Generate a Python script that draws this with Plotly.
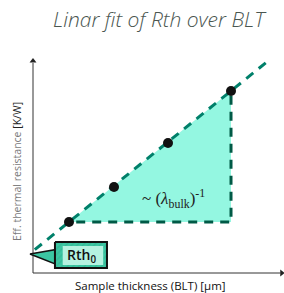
import plotly.graph_objects as go

# ---- data (arbitrary units) ----
blt_um = [20, 45, 75, 110]            # sample thickness (BLT)
rth_kw = [0.51, 0.86, 1.30, 1.82]     # effective thermal resistance
rth0 = 0.219                          # intercept Rth0
inv_lambda = 0.01456                  # slope ~ 1/lambda_bulk
fit_blt = [1, 131]
fit_rth = [rth0 + inv_lambda * b for b in fit_blt]

tri_x = [blt_um[0], blt_um[-1], blt_um[-1], blt_um[0]]
tri_y = [rth_kw[0], rth_kw[-1], rth_kw[0], rth_kw[0]]
leg_x = [blt_um[0] + 4, blt_um[-1], blt_um[-1]]
leg_y = [rth_kw[0], rth_kw[0], rth_kw[-1]]

box_x = [12.2, 41.1, 41.1, 12.2, 12.2]
box_y = [0.31, 0.31, 0.05, 0.05, 0.31]
wedge_x = [-1.7, 13.0, 13.0, -1.7]
wedge_y = [0.19, 0.235, 0.085, 0.19]

axis_x = [0, 0, 137.5]
axis_y = [2.10, 0, 0]

x_range = [-33 / 1.8, (284 - 33) / 1.8]
y_range = [-0.2, 2.73]

fig = go.Figure()

# axes lines
fig.add_trace(go.Scatter(x=axis_x, y=axis_y, mode="lines",
                         line=dict(color="#333333", width=1), hoverinfo="skip"))
fig.add_trace(go.Scatter(x=[0], y=[2.12], mode="markers",
                         marker=dict(symbol="triangle-up", size=6, color="#222222")))
fig.add_trace(go.Scatter(x=[138.2], y=[0], mode="markers",
                         marker=dict(symbol="triangle-right", size=6, color="#222222")))

# triangle fill
fig.add_trace(go.Scatter(x=tri_x, y=tri_y, fill="toself", fillcolor="#94F7E1",
                         mode="lines", line=dict(width=0), hoverinfo="skip"))
# triangle legs
fig.add_trace(go.Scatter(x=leg_x, y=leg_y, mode="lines",
                         line=dict(color="#005A46", width=3, dash="9px,7px")))
# fit line
fig.add_trace(go.Scatter(x=fit_blt, y=fit_rth, mode="lines",
                         line=dict(color="#00806A", width=3, dash="9px,7px")))
# measured points
fig.add_trace(go.Scatter(x=blt_um, y=rth_kw, mode="markers",
                         marker=dict(color="#111111", size=10)))
# callout wedge
fig.add_trace(go.Scatter(x=wedge_x, y=wedge_y, fill="toself", fillcolor="#3CC6A2",
                         mode="lines", line=dict(color="#111111", width=1.5)))
# Rth0 box
fig.add_trace(go.Scatter(x=box_x, y=box_y, fill="toself", mode="lines",
                         line=dict(color="#111111", width=2),
                         fillpattern=dict(shape="/", bgcolor="#3CC6A2",
                                          fgcolor="#2DAA8A", size=4, solidity=0.3)))

fig.add_shape(type="rect", x0=16.5, x1=39.0, y0=0.27, y1=0.08,
              fillcolor="#B5F2E0", line=dict(width=0), layer="above")

# texts
fig.add_annotation(x=70.5, y=2.54, text="Linar fit of Rth over BLT", showarrow=False,
                   font=dict(family="Open Sans", size=21, color="#4A5650",
                             style="italic", weight=300))
fig.add_annotation(x=65, y=-0.12, text="Sample thickness (BLT) [µm]", showarrow=False,
                   font=dict(family="Open Sans", size=11.5, color="#111111"))
fig.add_annotation(x=-8.9, y=1.02, textangle=-90, showarrow=False,
                   text="<span style='color:#7A7A7A'>Eff. thermal resistance</span> [K/W]",
                   font=dict(family="Open Sans", size=10.5, color="#222222"))
fig.add_annotation(x=78.3, y=0.75, showarrow=False,
                   text="~ (<i>λ</i><sub>bulk</sub>)<sup>-1</sup>",
                   font=dict(family="Liberation Serif", size=17, color="#222222"))
fig.add_annotation(x=26.7, y=0.18, showarrow=False, text="Rth<sub>0</sub>",
                   font=dict(family="Open Sans", size=14, color="#111111", weight=600))

fig.update_layout(width=284, height=293, margin=dict(l=0, r=0, t=0, b=0),
                  paper_bgcolor="white", plot_bgcolor="white", showlegend=False,
                  xaxis=dict(range=x_range, visible=False, fixedrange=True),
                  yaxis=dict(range=y_range, visible=False, fixedrange=True))

fig.write_html("out.html", config={"displayModeBar": False},
               post_script="document.body.style.margin='0';document.body.style.overflow='hidden';")
